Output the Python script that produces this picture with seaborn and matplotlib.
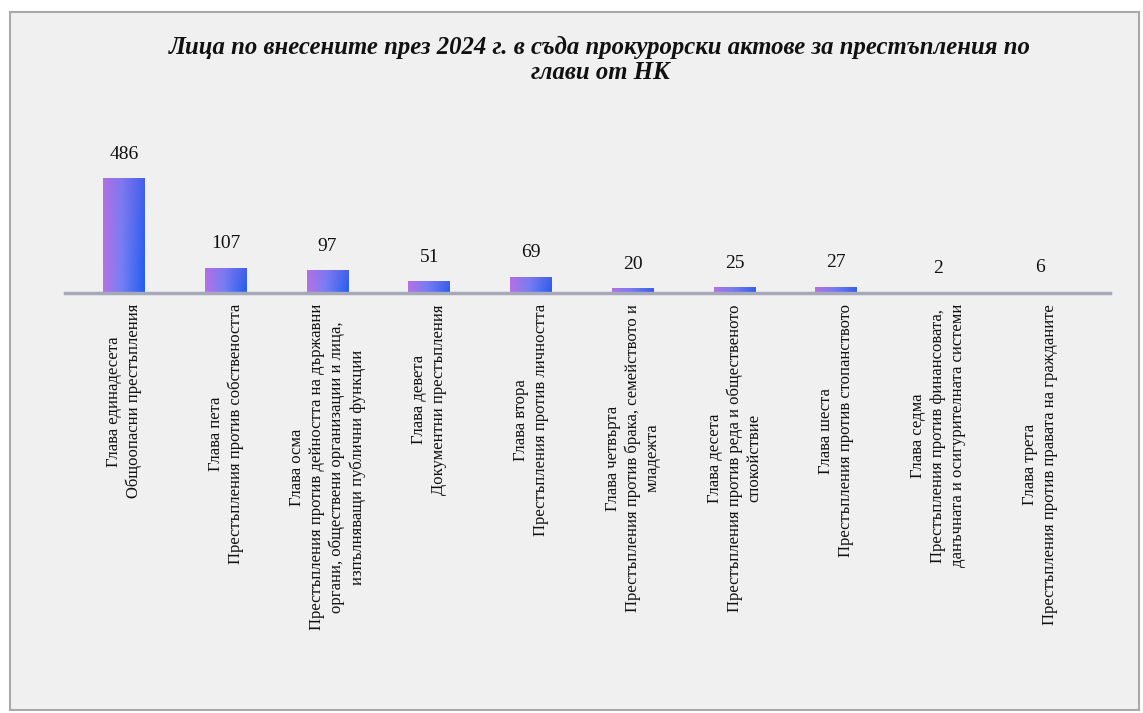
import numpy as np
import pandas as pd
import matplotlib
matplotlib.use("Agg")
import matplotlib.pyplot as plt
import seaborn as sns
from matplotlib.patches import Rectangle

sns.set_theme(style="white")
plt.rcParams['font.family'] = ['Liberation Serif', 'DejaVu Serif']

title = ("Лица по внесените през 2024 г. в съда прокурорски актове за престъпления по\n"
         "глави от НК")

categories = [
    "Глава единадесета\nОбщоопасни престъпления",
    "Глава пета\nПрестъпления против собствеността",
    "Глава осма\nПрестъпления против дейността на държавни\nоргани, обществени организации и лица,\nизпълняващи публични функции",
    "Глава девета\nДокументни престъпления",
    "Глава втора\nПрестъпления против личността",
    "Глава четвърта\nПрестъпления против брака, семейството и\nмладежта",
    "Глава десета\nПрестъпления против реда и общественото\nспокойствие",
    "Глава шеста\nПрестъпления против стопанството",
    "Глава седма\nПрестъпления против финансовата,\nданъчната и осигурителната системи",
    "Глава трета\nПрестъпления против правата на гражданите",
]
values = [486, 107, 97, 51, 69, 20, 25, 27, 2, 6]

df = pd.DataFrame({"cat": categories, "val": values})

W, H = 1143, 713
fig = plt.figure(figsize=(W / 100, H / 100), dpi=100)
fig.patch.set_facecolor("white")

# chart frame (drawn behind the axes)
frame_ax = fig.add_axes([0, 0, 1, 1], zorder=-5)
frame_ax.set_axis_off()
frame_ax.set_xlim(0, W)
frame_ax.set_ylim(H, 0)
frame_ax.add_patch(Rectangle((10, 12), 1129, 698, facecolor="#f0f0f0",
                             edgecolor="#a9a9a9", linewidth=1.5))

ax_l, ax_r, ax_b, ax_t = 65, 1110, 293, 100
ax = fig.add_axes([ax_l / W, 1 - ax_b / H, (ax_r - ax_l) / W, (ax_b - ax_t) / H],
                  zorder=2)
ax.set_facecolor("none")

sns.barplot(data=df, x="cat", y="val", color="#4a6cf0", width=0.41,
            ax=ax, saturation=1, edgecolor="none")

ymax = 486 * (ax_b - ax_t) / 115
ax.set_xlim(-0.58, 9.69)
ax.set_ylim(0, ymax)

# gradient fill for each bar
nx, ny = 64, 64
tx = np.linspace(0, 1, nx)
left = np.array([0.72, 0.45, 0.90])
mid = np.array([0.45, 0.50, 0.96])
right = np.array([0.13, 0.37, 0.93])
row = np.empty((nx, 3))
for i, t in enumerate(tx):
    if t < 0.45:
        s = t / 0.45
        row[i] = left * (1 - s) + mid * s
    else:
        s = (t - 0.45) / 0.55
        row[i] = mid * (1 - s) + right * s
ty = np.linspace(0, 1, ny)[:, None, None]
purple = np.array([0.62, 0.40, 0.88])
grad = row[None, :, :] * (0.72 + 0.28 * ty) + purple[None, None, :] * (0.28 * (1 - ty))
grad = np.clip(grad, 0, 1)

for p in list(ax.patches):
    x0, y0 = p.get_x(), p.get_y()
    w, h = p.get_width(), p.get_height()
    im = ax.imshow(grad, extent=[x0, x0 + w, y0, y0 + h], aspect="auto",
                   interpolation="bilinear", zorder=p.get_zorder() + 0.1)
    im.set_clip_path(p)
ax.set_xlim(-0.58, 9.69)
ax.set_ylim(0, ymax)
ax.set_aspect("auto")

ax.bar_label(ax.containers[0], labels=[str(v) for v in values], padding=11,
             fontsize=14, color="#111111")

ax.set_xticks(range(len(categories)))
ax.set_xticklabels(categories, rotation=90, ha="center", va="top",
                   multialignment="center", fontsize=12, linespacing=1.3,
                   color="#111111")
ax.tick_params(axis="x", length=0, pad=8)
ax.set_yticks([])
ax.set_xlabel("")
ax.set_ylabel("")
for s in ["left", "right", "top"]:
    ax.spines[s].set_visible(False)
ax.spines["bottom"].set_color("#a7a9bb")
ax.spines["bottom"].set_linewidth(2.5)

fig.text(600 / W, 1 - 60 / H, title, ha="center", va="center",
         fontsize=17.8, fontstyle="italic", fontweight="bold",
         linespacing=1.15, color="#111111", zorder=3)

fig.savefig("out.png", dpi=100, facecolor="white")
